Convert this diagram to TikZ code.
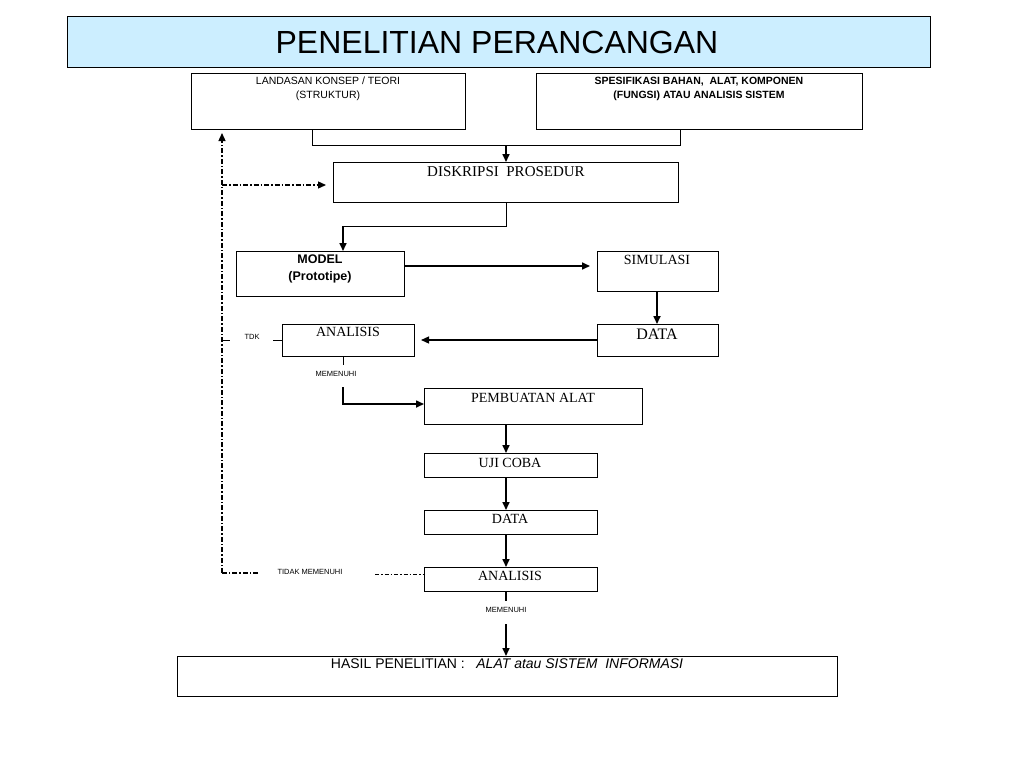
\documentclass[tikz,border=0pt]{standalone}
\usepackage{fontspec}
\setmainfont{Liberation Serif}
\setsansfont{Liberation Sans}
\usetikzlibrary{arrows.meta}
\definecolor{titleblue}{HTML}{CCEEFF}
\tikzset{
  bx/.style={draw,anchor=north west,inner sep=0pt,line width=0.8pt},
  arr/.style={-{Triangle[length=8pt,width=7pt]},line width=1.6pt},
  ln/.style={line width=0.8pt},
  dd/.style={line width=1.3pt,dash pattern=on 5pt off 2pt on 1.5pt off 2pt},
  ddarr/.style={dd,-{Triangle[length=8pt,width=7pt]}},
  lbl/.style={anchor=north,inner sep=0pt,align=center},
  tiny/.style={font=\sffamily\fontsize{7.5}{8}\selectfont,inner sep=0pt}
}
\newcommand\bxx[5]{\node[bx,minimum width=#4pt-#2pt,minimum height=#5pt-#3pt] (#1) at (#2,#3) {};}
\begin{document}
\begin{tikzpicture}[x=1pt,y=-1pt]
\useasboundingbox (0,0) rectangle (1015,756);
\node[bx,fill=titleblue,minimum width=863pt,minimum height=51pt] (title) at (67,16) {};
\node[font=\sffamily\fontsize{32}{34}\selectfont] (tt) at (497,42) {PENELITIAN PERANCANGAN};
\bxx{lk}{191}{73}{465}{129}
\node[lbl,font=\sffamily\fontsize{10.5}{14}\selectfont] (lkt) at (328,77) {LANDASAN KONSEP / TEORI\\(STRUKTUR)};
\bxx{sp}{536}{73}{862}{129}
\node[lbl,font=\sffamily\bfseries\fontsize{10.5}{14}\selectfont] (spt) at (699,77) {SPESIFIKASI BAHAN,\ \ ALAT, KOMPONEN\\(FUNGSI) ATAU ANALISIS SISTEM};
\bxx{dp}{333}{162}{678}{202}
\node[lbl,font=\fontsize{15}{17}\selectfont] (dpt) at (506,166) {DISKRIPSI\ \ PROSEDUR};
\bxx{md}{236}{251}{404}{296}
\node[lbl,font=\sffamily\bfseries\fontsize{12.5}{17}\selectfont] (mdt) at (320,255) {MODEL\\(Prototipe)};
\bxx{sm}{597}{251}{718}{291}
\node[lbl,font=\fontsize{14}{16}\selectfont] (smt) at (657,255) {SIMULASI};
\bxx{da}{597}{324}{718}{356}
\node[lbl,font=\fontsize{16}{18}\selectfont] (dat) at (657,329) {DATA};
\bxx{an}{282}{324}{414}{356}
\node[lbl,font=\fontsize{14}{16}\selectfont] (ant) at (348,327) {ANALISIS};
\bxx{pa}{424}{388}{642}{424}
\node[lbl,font=\fontsize{14}{16}\selectfont] (pat) at (533,393) {PEMBUATAN ALAT};
\bxx{uc}{424}{453}{597}{477}
\node[lbl,font=\fontsize{14}{16}\selectfont] (uct) at (510,458) {UJI COBA};
\bxx{db}{424}{510}{597}{534}
\node[lbl,font=\fontsize{14}{16}\selectfont] (dbt) at (510,514) {DATA};
\bxx{ab}{424}{567}{597}{591}
\node[lbl,font=\fontsize{14}{16}\selectfont] (abt) at (510,571) {ANALISIS};
\bxx{hs}{177}{656}{837}{696}
\node[lbl,font=\sffamily\fontsize{14}{16}\selectfont] (hst) at (507,659) {HASIL PENELITIAN :\ \ \ \textit{ALAT atau SISTEM\ \ INFORMASI}};
% top bracket
\coordinate (b1) at (312,145); \coordinate (b2) at (680,145); \coordinate (bm) at (506,145);
\draw[ln] (lk.south -| b1) -- (b1) -- (b2) -- (sp.south -| b2);
\draw[arr] (bm) -- (dp.north -| bm);
\coordinate (c1) at (506,226); \coordinate (c2) at (343,226);
\draw[ln] (dp.south -| c1) -- (c1) -- (c2);
\draw[arr] (c2) -- (md.north -| c2);
\coordinate (m1) at (404,266);
\draw[arr] (m1) -- (590,266) coordinate (m2);
\coordinate (s1) at (657,291);
\draw[arr] (s1) -- (da.north -| s1);
\coordinate (d1) at (597,340);
\draw[arr,line width=1.3pt] (d1) -- (421,340) coordinate (d2);
% TDK
\node[tiny] (tdk) at (252,337) {TDK};
\draw[ln] (222,340) coordinate (t1) -- (230,340);
\draw[ln] (273,340) -- (an.west |- 0,340);
\coordinate (a1) at (343,356);
\draw[ln] (a1) -- (343,365);
\node[tiny] (mm1) at (336,374) {MEMENUHI};
\coordinate (a2) at (343,387); \coordinate (a3) at (343,404);
\draw[arr] (a2) -- (a3) -- (pa.west |- a3);
\coordinate (p1) at (506,424);
\draw[arr] (p1) -- (uc.north -| p1);
\draw[arr] (uc.south -| p1) -- (db.north -| p1);
\draw[arr] (db.south -| p1) -- (ab.north -| p1);
% tidak memenuhi
\node[tiny] (tm) at (310,572) {TIDAK MEMENUHI};
\draw[line width=0.6pt,dash pattern=on 4pt off 2pt on 1.5pt off 2pt] (375,574) -- (ab.west |- 0,574);
\coordinate (v1) at (222,574); \coordinate (v2) at (222,133);
\draw[dd] (258,573) -- (222,573);
\draw[ddarr] (222,573) -- (v2);
\coordinate (h1) at (222,185);
\draw[ddarr] (h1) -- (326,185);
\coordinate (e1) at (506,591);
\draw[line width=1.6pt] (e1) -- (506,601);
\node[tiny] (mm2) at (506,610) {MEMENUHI};
\coordinate (e2) at (506,624);
\draw[arr] (e2) -- (hs.north -| e2);
\end{tikzpicture}
\end{document}
